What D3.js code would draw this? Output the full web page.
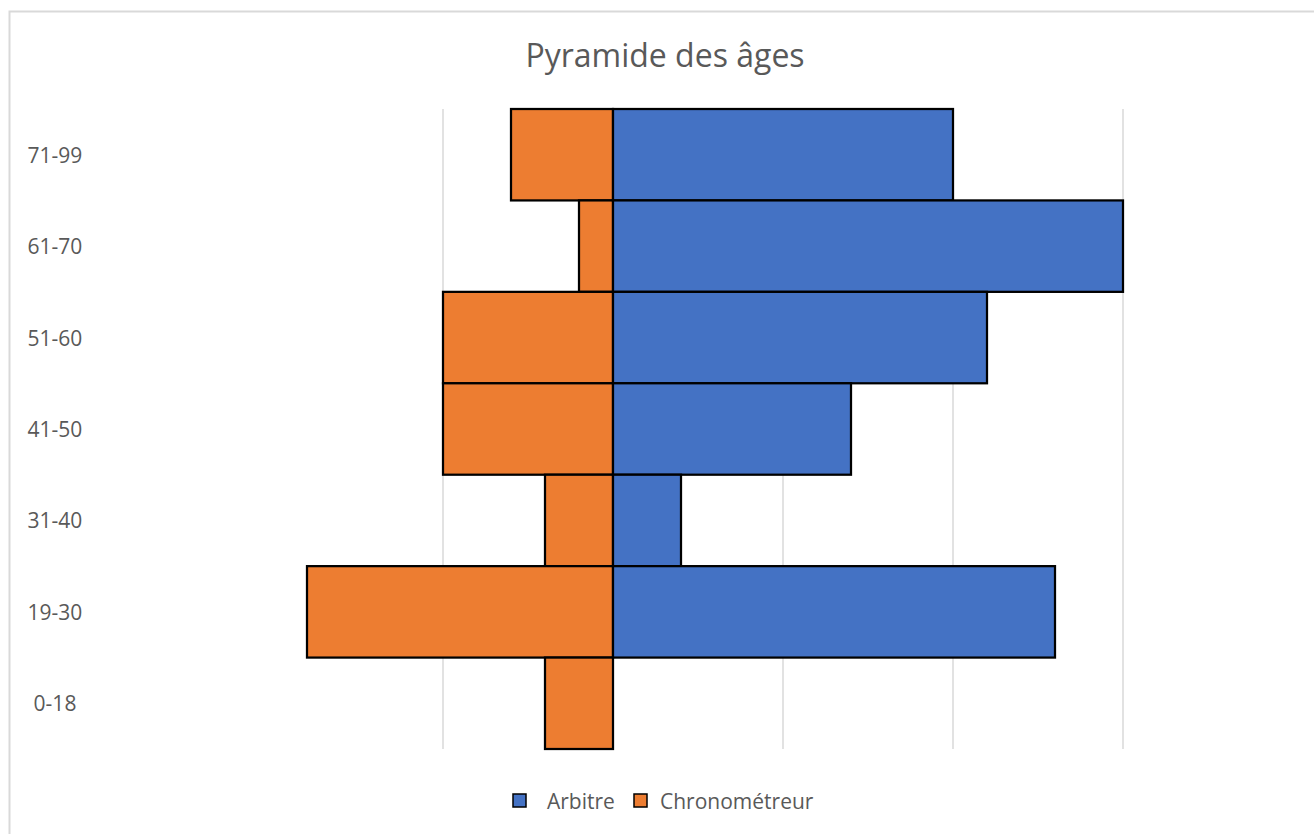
<!DOCTYPE html>
<html>
<head>
<meta charset="utf-8">
<script src="https://cdn.jsdelivr.net/npm/d3@7"></script>
<style>
  body { margin: 0; background: #fff; }
  text { font-family: "Open Sans", "Noto Sans", sans-serif; fill: #595959; }
</style>
</head>
<body>
<svg id="chart" width="1314" height="834"></svg>
<script>
// data
const ageGroups = ["71-99", "61-70", "51-60", "41-50", "31-40", "19-30", "0-18"];
const arbitre = [10, 15, 11, 7, 2, 13, 0];
const chronometreur = [3, 1, 5, 5, 2, 9, 2];
const gridTicks = [-5, 0, 5, 10, 15];
const seriesNames = ["Arbitre", "Chronométreur"];
const seriesColors = ["#4472c4", "#ed7d31"];

const svg = d3.select("#chart");
const width = +svg.attr("width");
const height = +svg.attr("height");
const plot = { left: 273, right: 1123, top: 109, bottom: 749 };

// chart frame
svg.append("rect")
    .attr("x", 9.5).attr("y", 11.5)
    .attr("width", width + 10).attr("height", height + 10)
    .attr("fill", "#fff")
    .attr("stroke", "#d9d9d9")
    .attr("stroke-width", 2);

const x = d3.scaleLinear()
            .domain([-10, 15])
            .range([plot.left, plot.right]);
const y = d3.scaleBand()
            .domain(ageGroups)
            .range([plot.top, plot.bottom])
            .padding(0);

// gridlines
svg.append("g").selectAll("line").data(gridTicks)
    .join("line")
    .attr("x1", d => x(d)).attr("x2", d => x(d))
    .attr("y1", plot.top).attr("y2", plot.bottom)
    .attr("stroke", "#d9d9d9")
    .attr("stroke-width", 1.5);

// bars
const rows = ageGroups.map((g, i) => ({ group: g, a: arbitre[i], c: chronometreur[i] }));

svg.append("g").selectAll("rect").data(rows.filter(d => d.c > 0))
    .join("rect")
    .attr("x", d => x(-d.c))
    .attr("y", d => y(d.group))
    .attr("width", d => x(0) - x(-d.c))
    .attr("height", y.bandwidth())
    .attr("fill", seriesColors[1])
    .attr("stroke", "#000")
    .attr("stroke-width", 2.25);

svg.append("g").selectAll("rect").data(rows.filter(d => d.a > 0))
    .join("rect")
    .attr("x", x(0))
    .attr("y", d => y(d.group))
    .attr("width", d => x(d.a) - x(0))
    .attr("height", y.bandwidth())
    .attr("fill", seriesColors[0])
    .attr("stroke", "#000")
    .attr("stroke-width", 2.25);

// category labels
svg.append("g").selectAll("text").data(ageGroups)
    .join("text")
    .attr("x", 55)
    .attr("y", d => y(d) + y.bandwidth() / 2)
    .attr("text-anchor", "middle")
    .attr("dominant-baseline", "central")
    .style("font-size", "21px")
    .text(d => d);

// title
svg.append("text")
    .attr("x", 665)
    .attr("y", 67)
    .attr("text-anchor", "middle")
    .style("font-size", "32px")
    .text("Pyramide des âges");

// legend
const legendItems = [
    { name: seriesNames[0], color: seriesColors[0], box: 513, label: 547 },
    { name: seriesNames[1], color: seriesColors[1], box: 634, label: 660 }
];
const legend = svg.append("g");
legendItems.forEach(d => {
    legend.append("rect")
        .attr("x", d.box).attr("y", 794)
        .attr("width", 13).attr("height", 13)
        .attr("fill", d.color)
        .attr("stroke", "#000")
        .attr("stroke-width", 1.5);
    legend.append("text")
        .attr("x", d.label).attr("y", 801)
        .attr("dominant-baseline", "central")
        .style("font-size", "21px")
        .text(d.name);
});
</script>
</body>
</html>
